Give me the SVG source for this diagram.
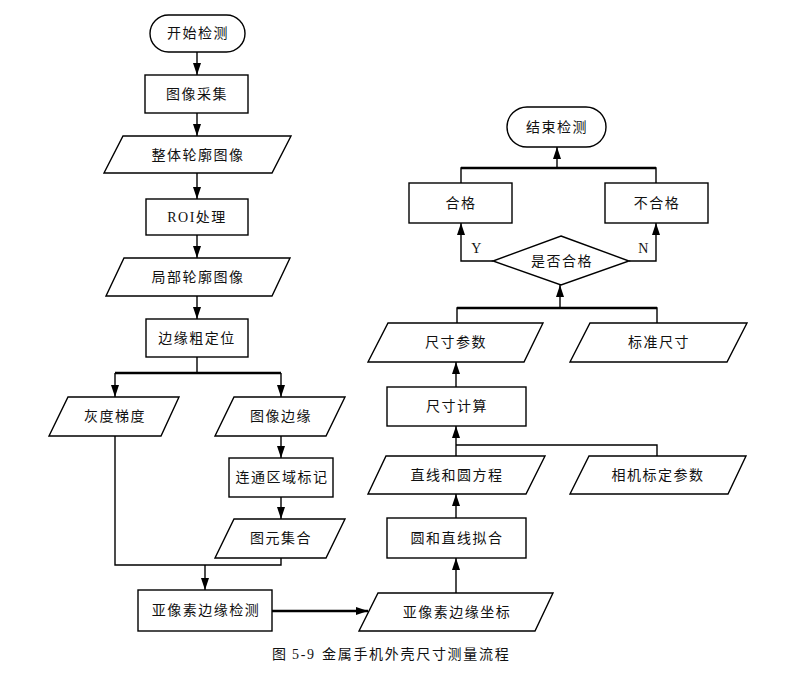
<svg xmlns="http://www.w3.org/2000/svg" width="796" height="693" viewBox="0 0 796 693">
<style>
.s{fill:#fff;stroke:#000;stroke-width:1.4}
.c{fill:none;stroke:#000;stroke-width:1.4}
.b{fill:none;stroke:#000;stroke-width:2.4}
text{font-family:"Liberation Serif","Noto Sans CJK SC",serif;font-size:14px;fill:#111;text-anchor:middle;letter-spacing:1.5px}
.cap{font-size:14px;letter-spacing:1.7px;text-anchor:start}
</style>
<defs>
<marker id="a" viewBox="0 0 12 8" refX="12" refY="4" markerWidth="12" markerHeight="8" orient="auto" markerUnits="userSpaceOnUse">
<path d="M0,0 L12,4 L0,8 z" fill="#000"/>
</marker>
</defs>
<rect width="796" height="693" fill="#fff"/>
<g id="connectors">
<line class="c" x1="197" y1="52" x2="197" y2="75" marker-end="url(#a)"/>
<line class="c" x1="197" y1="113" x2="197" y2="136" marker-end="url(#a)"/>
<line class="c" x1="197" y1="173" x2="197" y2="199" marker-end="url(#a)"/>
<line class="c" x1="197" y1="235" x2="197" y2="258" marker-end="url(#a)"/>
<line class="c" x1="197" y1="296" x2="197" y2="319" marker-end="url(#a)"/>
<line class="c" x1="197" y1="357" x2="197" y2="373"/>
<line class="b" x1="115" y1="373" x2="281" y2="373"/>
<line class="c" x1="115" y1="373" x2="115" y2="397" marker-end="url(#a)"/>
<line class="c" x1="281" y1="373" x2="281" y2="397" marker-end="url(#a)"/>
<line class="c" x1="281" y1="436" x2="281" y2="458" marker-end="url(#a)"/>
<line class="c" x1="281" y1="497" x2="281" y2="519" marker-end="url(#a)"/>
<polyline class="c" points="115,436 115,565 281,565 281,558"/>
<line class="c" x1="205" y1="565" x2="205" y2="590" marker-end="url(#a)"/>
<line class="b" x1="272" y1="611" x2="368" y2="611" marker-end="url(#a)"/>
<line class="c" x1="456" y1="593" x2="456" y2="558" marker-end="url(#a)"/>
<line class="c" x1="456" y1="518" x2="456" y2="494" marker-end="url(#a)"/>
<line class="c" x1="456" y1="456" x2="456" y2="426" marker-end="url(#a)"/>
<polyline class="c" points="456,445 657,445 657,456"/>
<line class="c" x1="456" y1="387" x2="456" y2="362" marker-end="url(#a)"/>
<polyline class="c" points="457,323 457,308 657,308 657,323"/>
<line class="b" x1="457" y1="308" x2="657" y2="308"/>
<line class="c" x1="560" y1="308" x2="560" y2="285" marker-end="url(#a)"/>
<polyline class="c" points="493,261 461,261 461,223" marker-end="url(#a)"/>
<polyline class="c" points="629,261 656,261 656,223" marker-end="url(#a)"/>
<polyline class="c" points="461,183 461,168 656,168 656,183"/>
<line class="b" x1="461" y1="168" x2="656" y2="168"/>
<line class="c" x1="557" y1="168" x2="557" y2="147" marker-end="url(#a)"/>
</g>
<g id="start"><rect class="s" x="150" y="15" width="95" height="37" rx="18.5"/><text x="198" y="38">开始检测</text></g>
<g id="capture"><rect class="s" x="145" y="75" width="103" height="38"/><text x="197" y="99">图像采集</text></g>
<g id="whole"><polygon class="s" points="123,136 291,136 272,173 104,173"/><text x="198" y="160">整体轮廓图像</text></g>
<g id="roi"><rect class="s" x="146" y="199" width="102" height="36"/><text x="197" y="222">ROI处理</text></g>
<g id="local"><polygon class="s" points="124,258 290,258 272,296 106,296"/><text x="198" y="282">局部轮廓图像</text></g>
<g id="coarse"><rect class="s" x="146" y="319" width="102" height="38"/><text x="197" y="343">边缘粗定位</text></g>
<g id="gray"><polygon class="s" points="68,397 179,397 161,436 49,436"/><text x="115" y="421">灰度梯度</text></g>
<g id="edge"><polygon class="s" points="234,397 345,397 326,436 215,436"/><text x="281" y="421">图像边缘</text></g>
<g id="label"><rect class="s" x="229" y="458" width="104" height="39"/><text x="282" y="482">连通区域标记</text></g>
<g id="prims"><polygon class="s" points="234,519 345,519 326,558 215,558"/><text x="281" y="543">图元集合</text></g>
<g id="subpix"><rect class="s" x="138" y="590" width="134" height="41"/><text x="206" y="615">亚像素边缘检测</text></g>
<g id="subcoord"><polygon class="s" points="378,593 553,593 535,631 359,631"/><text x="457" y="617">亚像素边缘坐标</text></g>
<g id="fit"><rect class="s" x="387" y="518" width="139" height="40"/><text x="457" y="543">圆和直线拟合</text></g>
<g id="eqs"><polygon class="s" points="386,456 545,456 526,494 368,494"/><text x="457" y="480">直线和圆方程</text></g>
<g id="camera"><polygon class="s" points="589,456 746,456 728,494 570,494"/><text x="658" y="480">相机标定参数</text></g>
<g id="calc"><rect class="s" x="387" y="387" width="139" height="39"/><text x="457" y="411">尺寸计算</text></g>
<g id="params"><polygon class="s" points="388,323 543,323 524,362 368,362"/><text x="456" y="347">尺寸参数</text></g>
<g id="std"><polygon class="s" points="590,323 747,323 727,362 570,362"/><text x="659" y="347">标准尺寸</text></g>
<g id="decision"><polygon class="s" points="561,236 629,261 561,285 493,261"/><text x="562" y="266">是否合格</text></g>
<g id="pass"><rect class="s" x="409" y="183" width="103" height="40"/><text x="461" y="208">合格</text></g>
<g id="fail"><rect class="s" x="605" y="183" width="103" height="40"/><text x="657" y="208">不合格</text></g>
<g id="end"><rect class="s" x="507" y="107" width="99" height="40" rx="20"/><text x="557" y="132">结束检测</text></g>
<text x="477" y="253">Y</text>
<text x="644" y="253">N</text>
<text class="cap" y="659"><tspan x="272">图</tspan><tspan x="292">5-9</tspan><tspan x="322">金属手机外壳尺寸测量流程</tspan></text>
</svg>
